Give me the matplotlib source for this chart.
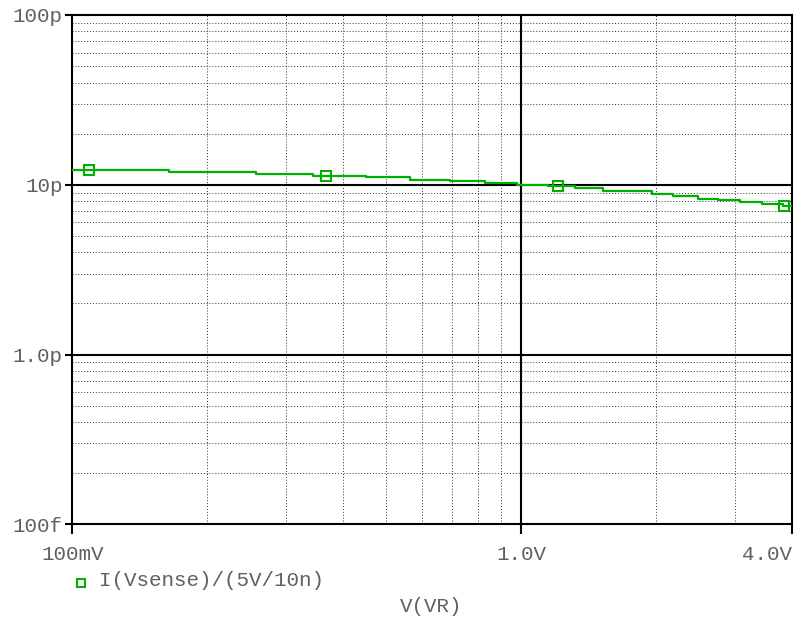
import numpy as np
import matplotlib
matplotlib.use("Agg")
import matplotlib.pyplot as plt
from matplotlib.lines import Line2D
from matplotlib.ticker import LogLocator, NullFormatter

# Step edges of the trace (V) and the current level held from each edge (pA)
v_steps = [0.1, 0.164, 0.256, 0.344, 0.452, 0.566, 0.695, 0.831, 0.98, 1.148,
           1.319, 1.523, 1.958, 2.18, 2.48, 2.75, 3.07, 3.44, 3.83, 4.0]
i_pA = [12.25, 11.93, 11.65, 11.30, 11.10, 10.74, 10.46, 10.18, 10.0, 9.77,
        9.51, 9.13, 8.81, 8.53, 8.27, 8.08, 7.87, 7.70, 7.52, 7.52]

# Where the trace markers sit (V)
marker_v = [0.109, 0.368, 1.209, 3.85]

x_tick_vals = [0.1, 1.0, 4.0]
x_tick_labels = ["100mV", "1.0V", "4.0V"]
y_tick_vals = [1e-13, 1e-12, 1e-11, 1e-10]
y_tick_labels = ["100f", "1.0p", "10p", "100p"]

trace_label = "I(Vsense)/(5V/10n)"
x_label = "V(VR)"

green = "#00b000"
txt = "#606060"
font = "Liberation Mono"

v = np.array(v_steps)
i = np.array(i_pA) * 1e-12
idx = np.searchsorted(v, marker_v, side="right") - 1
marker_i = i[idx]

W, H = 795, 623
fig = plt.figure(figsize=(W / 100, H / 100), dpi=100)
ax = fig.add_axes([72.3 / W, 1 - 524.3 / H, (791.5 - 72.3) / W, (524.3 - 15) / H])
ax.set_xscale("log")
ax.set_yscale("log")
ax.set_xlim(0.1, 4.0)
ax.set_ylim(1e-13, 1e-10)

# grid: dotted minor, solid major
ax.xaxis.set_minor_locator(LogLocator(base=10, subs=np.arange(2, 10)))
ax.yaxis.set_minor_locator(LogLocator(base=10, subs=np.arange(2, 10)))
ax.xaxis.set_minor_formatter(NullFormatter())
ax.yaxis.set_minor_formatter(NullFormatter())
ax.grid(True, which="minor", color="#333333", linestyle=(0, (1, 2)), linewidth=0.7)
for yv in [1e-12, 1e-11]:
    ax.axhline(yv, color="black", linewidth=1.5, zorder=2)
ax.axvline(1.0, color="black", linewidth=1.5, zorder=2)

ax.plot(v, i, drawstyle="steps-post", color=green, linewidth=1.6, zorder=3)
ax.plot(marker_v, marker_i, linestyle="none", marker="s", markersize=7,
        markerfacecolor="none", markeredgecolor=green, markeredgewidth=1.5, zorder=4)

for s in ax.spines.values():
    s.set_linewidth(1.5)
    s.set_color("black")

ax.set_xticks(x_tick_vals)
ax.set_xticklabels(x_tick_labels)
ax.set_yticks(y_tick_vals)
ax.set_yticklabels(y_tick_labels)
ax.tick_params(axis="x", which="major", length=7, width=1.5, pad=8,
               labelsize=15, labelcolor=txt)
ax.tick_params(axis="y", which="major", length=5, width=1.5, pad=2,
               labelsize=15, labelcolor=txt)
ax.tick_params(which="minor", length=0)
for lab in ax.get_xticklabels() + ax.get_yticklabels():
    lab.set_fontfamily(font)
ax.get_xticklabels()[-1].set_horizontalalignment("right")

# legend entry below the plot
fig.add_artist(Line2D([80.7 / W], [1 - 582.7 / H], marker="s", markersize=6,
                      markerfacecolor="none", markeredgecolor=green,
                      markeredgewidth=1.5, linestyle="none"))
fig.text(99 / W, 1 - 580 / H, trace_label, fontsize=15, color=txt,
         family=font, va="center", ha="left")
fig.text(431 / W, 1 - 607 / H, x_label, fontsize=15, color=txt,
         family=font, va="center", ha="center")

fig.savefig("out.png", dpi=100)
